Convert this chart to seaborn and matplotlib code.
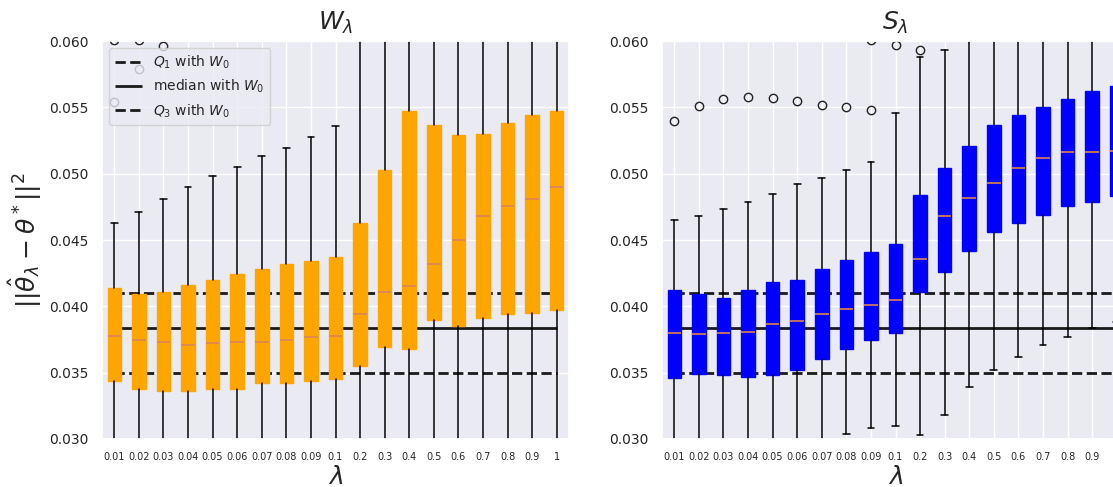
import seaborn as sns
import matplotlib.pyplot as plt
import numpy as np

sns.set_theme(style='darkgrid')

lambdas = ['0.01', '0.02', '0.03', '0.04', '0.05', '0.06', '0.07', '0.08', '0.09',
           '0.1', '0.2', '0.3', '0.4', '0.5', '0.6', '0.7', '0.8', '0.9', '1']

# reference quartiles obtained with W_0
ref_q1 = 0.035
ref_med = 0.0384
ref_q3 = 0.041

# W_lambda boxes
w_q1 = [0.0344, 0.0338, 0.0336, 0.0336, 0.0338, 0.0338, 0.0342, 0.0342, 0.0344, 0.0345,
        0.0355, 0.0369, 0.0368, 0.0390, 0.0385, 0.0391, 0.0394, 0.0395, 0.0397]
w_med = [0.0378, 0.0375, 0.0373, 0.0371, 0.0372, 0.0373, 0.0373, 0.0375, 0.0377, 0.0378,
         0.0394, 0.0411, 0.0415, 0.0432, 0.0450, 0.0468, 0.0476, 0.0481, 0.0490]
w_q3 = [0.0414, 0.0409, 0.0411, 0.0416, 0.0420, 0.0424, 0.0428, 0.0432, 0.0434, 0.0437,
        0.0463, 0.0503, 0.0547, 0.0537, 0.0529, 0.0530, 0.0538, 0.0544, 0.0547]
w_lo = [0.025, 0.025, 0.025, 0.025, 0.025, 0.025, 0.025, 0.025, 0.025, 0.025,
        0.025, 0.025, 0.025, 0.025, 0.025, 0.025, 0.025, 0.025, 0.025]
w_hi = [0.0463, 0.0471, 0.0481, 0.0490, 0.0498, 0.0505, 0.0513, 0.0519, 0.0528, 0.0536,
        0.065, 0.065, 0.065, 0.065, 0.065, 0.065, 0.065, 0.065, 0.065]
w_fliers = [[0.0554, 0.0601], [0.0579, 0.0601], [0.0596], [], [], [], [], [], [], [],
            [], [], [], [], [], [], [], [], []]

# S_lambda boxes
s_q1 = [0.0346, 0.0349, 0.0348, 0.0347, 0.0348, 0.0352, 0.0360, 0.0368, 0.0375, 0.0380,
        0.0411, 0.0426, 0.0442, 0.0456, 0.0463, 0.0469, 0.0476, 0.0479, 0.0483]
s_med = [0.0380, 0.0379, 0.0380, 0.0381, 0.0387, 0.0389, 0.0394, 0.0398, 0.0401, 0.0405,
         0.0436, 0.0468, 0.0482, 0.0493, 0.0504, 0.0512, 0.0516, 0.0516, 0.0517]
s_q3 = [0.0412, 0.0409, 0.0406, 0.0412, 0.0418, 0.0420, 0.0428, 0.0435, 0.0441, 0.0447,
        0.0484, 0.0504, 0.0521, 0.0537, 0.0544, 0.0550, 0.0556, 0.0562, 0.0566]
s_lo = [0.025, 0.025, 0.025, 0.025, 0.025, 0.025, 0.025, 0.0304, 0.0308, 0.0310,
        0.0303, 0.0318, 0.0339, 0.0352, 0.0362, 0.0371, 0.0377, 0.0384, 0.0388]
s_hi = [0.0465, 0.0468, 0.0473, 0.0479, 0.0485, 0.0492, 0.0497, 0.0503, 0.0509, 0.0546,
        0.0588, 0.0593, 0.065, 0.065, 0.065, 0.065, 0.065, 0.065, 0.065]
s_fliers = [[0.0540], [0.0551], [0.0556], [0.0558], [0.0557], [0.0555], [0.0552], [0.0550],
            [0.0548, 0.0601], [0.0597], [0.0593], [], [], [], [], [], [], [], []]


def make_stats(q1, med, q3, lo, hi, fliers):
    stats = []
    for i in range(len(lambdas)):
        stats.append({'q1': q1[i], 'med': med[i], 'q3': q3[i],
                      'whislo': lo[i], 'whishi': hi[i], 'fliers': fliers[i]})
    return stats


def draw_panel(ax, stats, color, title):
    pos = np.arange(1, len(lambdas) + 1)
    ax.bxp(stats, positions=pos, widths=0.55, patch_artist=True,
           boxprops=dict(facecolor=color, edgecolor=color),
           whiskerprops=dict(color='black', linewidth=1.1),
           capprops=dict(color='black', linewidth=1.1),
           medianprops=dict(color='#DD8452', linewidth=1.2),
           flierprops=dict(marker='o', markerfacecolor='none',
                           markeredgecolor='#222222', markersize=6))
    ax.hlines(ref_q1, pos[0], pos[-1], colors='#1a1a1a', linestyles='--',
              linewidth=2, zorder=1.5, label=r'$Q_1$ with $W_0$')
    ax.hlines(ref_med, pos[0], pos[-1], colors='#1a1a1a', linestyles='-',
              linewidth=2, zorder=1.5, label=r'median with $W_0$')
    ax.hlines(ref_q3, pos[0], pos[-1], colors='#1a1a1a', linestyles='--',
              linewidth=2, zorder=1.5, label=r'$Q_3$ with $W_0$')
    ax.set_xticks(pos)
    ax.set_xticklabels(lambdas, fontsize=7)
    ax.set_xlim(0.5, len(lambdas) + 0.5)
    ax.set_ylim(0.030, 0.060)
    ax.set_yticks(np.arange(0.030, 0.0601, 0.005))
    ax.set_yticklabels([f'{v:.3f}' for v in np.arange(0.030, 0.0601, 0.005)], fontsize=10)
    ax.set_xlabel(r'$\lambda$', fontsize=18, labelpad=2)
    ax.set_title(title, fontsize=18, pad=8)


fig = plt.figure(figsize=(11.13, 4.87), dpi=100)
ax1 = fig.add_axes([102 / 1113, 48 / 487, 467 / 1113, 398 / 487])
ax2 = fig.add_axes([662 / 1113, 48 / 487, 467 / 1113, 398 / 487])

draw_panel(ax1, make_stats(w_q1, w_med, w_q3, w_lo, w_hi, w_fliers), 'orange', r'$W_\lambda$')
draw_panel(ax2, make_stats(s_q1, s_med, s_q3, s_lo, s_hi, s_fliers), 'blue', r'$S_\lambda$')

ax1.set_ylabel(r'$||\hat{\theta}_\lambda - \theta^*||^2$', fontsize=18)
ax1.legend(loc='upper left', fontsize=10)

fig.savefig('out.png', dpi=100)
